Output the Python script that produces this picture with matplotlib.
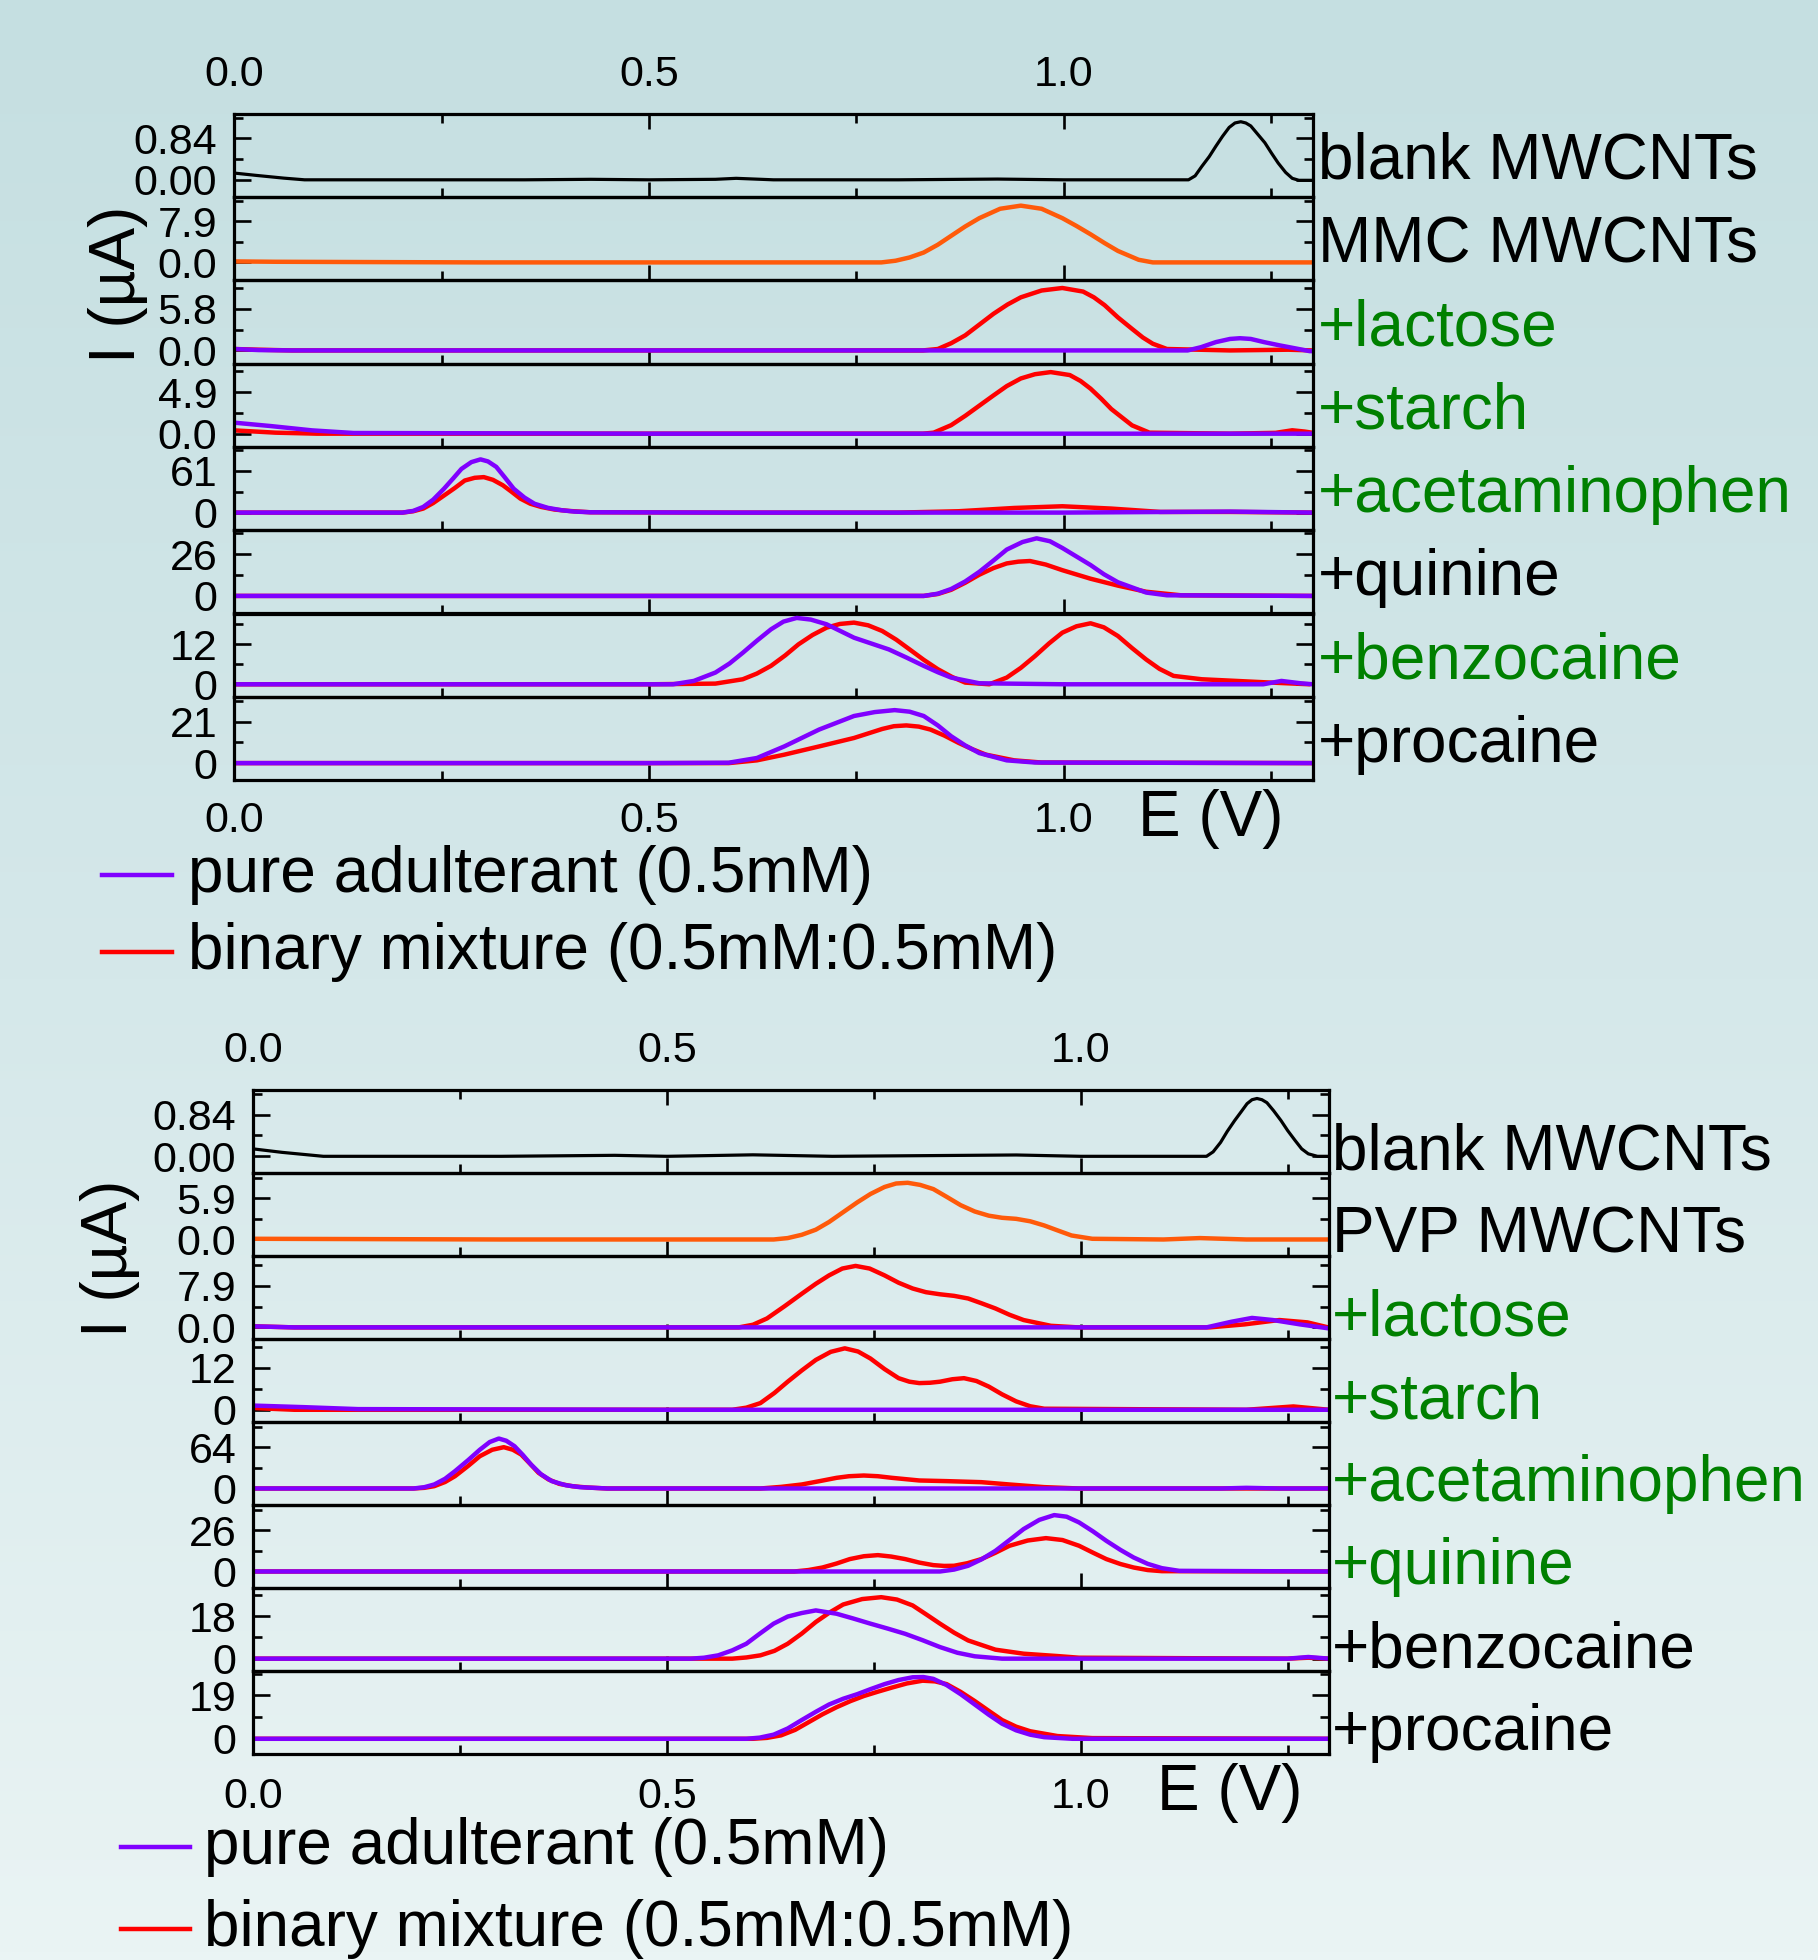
import numpy as np
import matplotlib
matplotlib.use("Agg")
import matplotlib.pyplot as plt
from matplotlib.lines import Line2D
from matplotlib.transforms import offset_copy
from matplotlib.colors import LinearSegmentedColormap

plt.rcParams['font.family'] = ['Liberation Sans', 'DejaVu Sans']

# ---------------- data: top figure (MMC MWCNTs) ----------------
top_blank_E = [0, 0.027, 0.06, 0.085, 0.2, 0.35, 0.43, 0.5, 0.58, 0.605, 0.65, 0.8, 0.92, 1.0, 1.15, 1.158, 1.166, 1.175, 1.183, 1.191, 1.199, 1.206, 1.213, 1.219, 1.225, 1.233, 1.242, 1.25, 1.258, 1.267, 1.275, 1.283, 1.3]
top_blank_I = [0.137, 0.089, 0.034, 0, 0, 0, 0.01, 0, 0.01, 0.03, 0, 0, 0.015, 0, 0, 0.08, 0.27, 0.47, 0.68, 0.88, 1.06, 1.15, 1.175, 1.15, 1.09, 0.93, 0.75, 0.54, 0.34, 0.15, 0.03, -0.01, -0.01]

top_mod_E = [0, 0.05, 0.17, 0.3, 0.5, 0.7, 0.78, 0.797, 0.814, 0.831, 0.848, 0.864, 0.881, 0.898, 0.923, 0.948, 0.973, 0.998, 1.015, 1.032, 1.049, 1.065, 1.09, 1.107, 1.2, 1.3]
top_mod_I = [0.19, 0.12, 0.06, 0, 0, 0, 0, 0.32, 0.95, 1.9, 3.4, 5.1, 6.9, 8.5, 10.3, 10.9, 10.3, 8.5, 7.0, 5.4, 3.7, 2.2, 0.5, 0, 0, 0]

top_lac_mix_E = [0, 0.03, 0.07, 0.5, 0.83, 0.848, 0.864, 0.881, 0.898, 0.915, 0.932, 0.948, 0.973, 0.998, 1.023, 1.036, 1.049, 1.065, 1.082, 1.095, 1.107, 1.124, 1.2, 1.27, 1.3]
top_lac_mix_I = [0.2, 0.1, 0, 0, 0, 0.2, 1.0, 2.1, 3.6, 5.1, 6.4, 7.4, 8.35, 8.7, 8.2, 7.4, 6.3, 4.6, 3.0, 1.8, 0.93, 0.2, 0, 0.1, 0]
top_lac_pure_E = [0, 0.03, 0.07, 0.5, 1.0, 1.149, 1.165, 1.183, 1.2, 1.212, 1.225, 1.241, 1.26, 1.275, 1.296, 1.3]
top_lac_pure_I = [0.2, 0.05, 0, 0, 0, 0, 0.45, 1.16, 1.6, 1.7, 1.6, 1.16, 0.7, 0.37, -0.1, -0.1]

top_sta_mix_E = [0, 0.05, 0.1, 0.5, 0.83, 0.843, 0.864, 0.881, 0.898, 0.915, 0.931, 0.948, 0.965, 0.984, 1.007, 1.02, 1.032, 1.045, 1.057, 1.07, 1.082, 1.103, 1.2, 1.255, 1.275, 1.29, 1.3]
top_sta_mix_I = [0.39, 0.12, 0, 0, 0, 0.12, 1.0, 2.1, 3.3, 4.5, 5.6, 6.5, 7.0, 7.25, 6.9, 6.2, 5.3, 4.1, 2.9, 1.9, 0.98, 0.12, 0, 0.1, 0.4, 0.25, 0.1]
top_sta_pure_E = [0, 0.044, 0.094, 0.144, 0.5, 1.0, 1.3]
top_sta_pure_I = [1.3, 0.9, 0.39, 0.08, 0, 0, 0]

top_ace_mix_E = [0, 0.1, 0.203, 0.216, 0.228, 0.24, 0.253, 0.266, 0.278, 0.29, 0.301, 0.312, 0.324, 0.335, 0.345, 0.357, 0.370, 0.386, 0.404, 0.429, 0.6, 0.8, 0.873, 0.94, 0.998, 1.057, 1.116, 1.2, 1.3]
top_ace_mix_I = [0, 0, 0, 2, 5.9, 14, 25, 36, 47, 51, 52, 48, 40, 30, 20.5, 13, 8.3, 4.5, 2.4, 0.5, 0, 0, 2, 6.8, 9.3, 5.9, 1, 1, 0]
top_ace_pure_E = [0, 0.1, 0.203, 0.216, 0.228, 0.24, 0.253, 0.264, 0.274, 0.286, 0.297, 0.306, 0.316, 0.326, 0.337, 0.35, 0.362, 0.378, 0.395, 0.41, 0.429, 0.6, 1.0, 1.2, 1.3]
top_ace_pure_I = [0, 0, 0, 2.5, 8.3, 19, 35, 50, 64, 74, 78, 75, 67, 52, 35, 22, 13, 7, 3.4, 1.5, 0.5, 0, 0, 1.5, 0]

top_qui_mix_E = [0, 0.5, 0.831, 0.848, 0.864, 0.881, 0.898, 0.915, 0.931, 0.945, 0.959, 0.978, 0.998, 1.032, 1.065, 1.099, 1.141, 1.3]
top_qui_mix_I = [0, 0, 0, 1.2, 3.8, 8.2, 13.2, 17.3, 20.2, 21.3, 21.7, 19.5, 16, 10.7, 6.4, 2.6, 0.4, 0]
top_qui_pure_E = [0, 0.5, 0.831, 0.848, 0.864, 0.881, 0.898, 0.915, 0.931, 0.95, 0.967, 0.983, 0.998, 1.015, 1.032, 1.048, 1.065, 1.099, 1.124, 1.3]
top_qui_pure_I = [0, 0, 0, 1.4, 4.3, 9.0, 15, 22, 28.8, 33.5, 35.8, 34, 29.8, 24.5, 19.2, 13.5, 8.5, 2.1, 0.4, 0]

top_ben_mix_E = [0, 0.5, 0.58, 0.613, 0.63, 0.647, 0.664, 0.68, 0.697, 0.714, 0.73, 0.747, 0.764, 0.781, 0.798, 0.814, 0.831, 0.848, 0.865, 0.881, 0.91, 0.931, 0.948, 0.965, 0.982, 0.998, 1.015, 1.032, 1.048, 1.065, 1.082, 1.099, 1.115, 1.132, 1.166, 1.208, 1.25, 1.296]
top_ben_mix_I = [0, 0, 0.2, 1.5, 3.2, 5.5, 8.6, 11.9, 14.7, 16.9, 18, 18.4, 17.6, 15.9, 13.3, 10.4, 7.3, 4.5, 2.2, 0.5, 0, 2, 4.9, 8.4, 12.2, 15.4, 17.3, 18.2, 17, 14.4, 10.8, 7.4, 4.6, 2.5, 1.5, 1, 0.5, 0]
top_ben_pure_E = [0, 0.5, 0.529, 0.554, 0.58, 0.597, 0.613, 0.63, 0.647, 0.662, 0.678, 0.695, 0.714, 0.747, 0.789, 0.81, 0.831, 0.848, 0.864, 0.898, 1.0, 1.24, 1.262, 1.285, 1.3]
top_ben_pure_I = [0, 0, 0, 1, 3.5, 6.2, 9.4, 13, 16.4, 18.7, 19.8, 19.3, 17.9, 13.9, 10.4, 8.0, 5.5, 3.6, 2, 0.3, 0, 0, 1, 0.3, 0]

top_pro_mix_E = [0, 0.5, 0.596, 0.63, 0.663, 0.705, 0.747, 0.781, 0.795, 0.81, 0.825, 0.839, 0.856, 0.873, 0.89, 0.906, 0.94, 0.973, 1.3]
top_pro_mix_I = [0, 0, 0, 1.4, 4.3, 8.5, 12.8, 17.4, 18.8, 19.2, 18.6, 17.1, 14, 10.3, 7.0, 4.3, 1.4, 0.3, 0]
top_pro_pure_E = [0, 0.5, 0.596, 0.63, 0.663, 0.705, 0.747, 0.772, 0.796, 0.814, 0.831, 0.848, 0.864, 0.881, 0.898, 0.931, 0.965, 1.3]
top_pro_pure_I = [0, 0, 0.2, 2.6, 8.5, 17.1, 24, 26, 27, 26.2, 24, 19.2, 13.7, 9.0, 5.1, 1.4, 0.3, 0]

# ---------------- data: bottom figure (PVP MWCNTs) ----------------
bot_blank_E = [0, 0.035, 0.085, 0.3, 0.437, 0.5, 0.604, 0.7, 0.922, 1.0, 1.152, 1.16, 1.169, 1.177, 1.186, 1.194, 1.201, 1.207, 1.213, 1.219, 1.225, 1.233, 1.242, 1.25, 1.259, 1.267, 1.275, 1.286, 1.3]
bot_blank_I = [0.15, 0.08, 0, 0, 0.02, 0, 0.03, 0, 0.027, 0, 0, 0.09, 0.28, 0.5, 0.72, 0.9, 1.06, 1.14, 1.165, 1.14, 1.08, 0.92, 0.72, 0.52, 0.32, 0.15, 0.05, 0, 0]

bot_mod_E = [0, 0.3, 0.629, 0.646, 0.663, 0.68, 0.696, 0.713, 0.73, 0.746, 0.763, 0.777, 0.791, 0.806, 0.822, 0.838, 0.855, 0.872, 0.889, 0.905, 0.922, 0.939, 0.956, 0.972, 0.989, 1.014, 1.1, 1.144, 1.2, 1.3]
bot_mod_I = [0.1, 0, 0, 0.2, 0.67, 1.4, 2.5, 3.9, 5.3, 6.5, 7.5, 8.0, 8.1, 7.8, 7.2, 6.1, 4.9, 4.0, 3.4, 3.1, 2.95, 2.6, 2.0, 1.3, 0.57, 0.1, 0, 0.2, 0, 0]

bot_lac_mix_E = [0, 0.05, 0.587, 0.604, 0.621, 0.642, 0.663, 0.68, 0.696, 0.712, 0.728, 0.745, 0.763, 0.78, 0.797, 0.813, 0.830, 0.847, 0.864, 0.88, 0.897, 0.914, 0.931, 0.964, 0.997, 1.156, 1.198, 1.24, 1.274, 1.299]
bot_lac_mix_I = [0.2, 0, 0, 0.5, 1.7, 4.0, 6.4, 8.3, 9.9, 11.2, 11.7, 11.2, 9.9, 8.5, 7.4, 6.7, 6.3, 6.0, 5.5, 4.6, 3.6, 2.4, 1.4, 0.3, 0, 0, 0.57, 1.4, 0.95, 0]
bot_lac_pure_E = [0, 0.05, 1.152, 1.182, 1.207, 1.232, 1.265, 1.3]
bot_lac_pure_I = [0.2, 0, 0, 1.07, 1.8, 1.4, 0.57, -0.2]

bot_sta_mix_E = [0, 0.05, 0.579, 0.596, 0.613, 0.63, 0.646, 0.663, 0.68, 0.698, 0.715, 0.731, 0.746, 0.763, 0.78, 0.793, 0.805, 0.818, 0.83, 0.845, 0.859, 0.874, 0.889, 0.905, 0.922, 0.939, 0.956, 1.2, 1.257, 1.3]
bot_sta_mix_I = [0.5, 0, 0, 0.6, 1.9, 4.8, 8.0, 11.2, 14.2, 16.5, 17.5, 16.6, 14.6, 11.6, 9.0, 8.0, 7.6, 7.7, 8.0, 8.7, 9.0, 8.2, 6.6, 4.4, 2.4, 1.0, 0.3, 0, 0.95, 0]
bot_sta_pure_E = [0, 0.06, 0.127, 0.5, 1.3]
bot_sta_pure_I = [1.2, 0.76, 0.19, 0, 0]

bot_ace_mix_E = [0, 0.194, 0.207, 0.219, 0.232, 0.244, 0.26, 0.274, 0.289, 0.303, 0.314, 0.324, 0.335, 0.345, 0.357, 0.37, 0.386, 0.404, 0.428, 0.613, 0.638, 0.663, 0.685, 0.705, 0.72, 0.738, 0.755, 0.772, 0.805, 0.838, 0.88, 0.914, 0.956, 0.998, 1.3]
bot_ace_mix_I = [0, 0, 1, 3.6, 10, 19, 35, 50, 60, 64, 60, 52.6, 38, 24.3, 14, 7.2, 3.5, 1.5, 0, 0, 2.5, 6.2, 11.5, 16.5, 19, 20.1, 19, 16.5, 12.4, 11.4, 9.8, 6.2, 2.1, 0, 0]
bot_ace_pure_E = [0, 0.194, 0.207, 0.219, 0.232, 0.244, 0.26, 0.274, 0.286, 0.297, 0.306, 0.316, 0.326, 0.336, 0.348, 0.361, 0.378, 0.395, 0.428, 1.0, 1.17, 1.2, 1.24, 1.3]
bot_ace_pure_I = [0, 0, 2, 6.2, 15, 26.8, 44, 60, 72, 77.4, 74, 65.5, 52, 37, 22, 11.4, 5, 2, 0, 0, 0, 1, 0, 0]

bot_qui_mix_E = [0, 0.5, 0.654, 0.671, 0.688, 0.705, 0.721, 0.738, 0.755, 0.771, 0.788, 0.805, 0.822, 0.835, 0.847, 0.863, 0.88, 0.897, 0.914, 0.936, 0.958, 0.978, 0.998, 1.015, 1.031, 1.048, 1.064, 1.081, 1.098, 1.3]
bot_qui_mix_I = [0, 0, 0, 0.9, 2.5, 5.0, 7.8, 9.6, 10.3, 9.4, 7.8, 5.6, 4.0, 3.5, 3.6, 5.2, 7.8, 11.8, 16.2, 19.5, 21, 19.8, 16.2, 11.8, 7.8, 4.7, 2.5, 0.9, 0.2, 0]
bot_qui_pure_E = [0, 0.5, 0.83, 0.847, 0.864, 0.88, 0.897, 0.914, 0.931, 0.95, 0.968, 0.983, 0.998, 1.015, 1.031, 1.048, 1.064, 1.081, 1.098, 1.119, 1.3]
bot_qui_pure_I = [0, 0, 0, 1.2, 3.6, 7.6, 13, 19.8, 26.7, 32.5, 35.5, 34.5, 30.9, 25.2, 19.3, 13.6, 8.8, 4.8, 2.1, 0.4, 0]

bot_ben_mix_E = [0, 0.5, 0.579, 0.596, 0.613, 0.63, 0.646, 0.663, 0.68, 0.697, 0.713, 0.736, 0.759, 0.778, 0.797, 0.813, 0.83, 0.847, 0.864, 0.897, 0.931, 0.972, 0.998, 1.25, 1.275, 1.3]
bot_ben_mix_I = [0, 0, 0, 0.5, 1.4, 3.3, 6.3, 10.6, 15.5, 19.6, 22.9, 25.2, 26, 25, 22.5, 18.8, 14.8, 11.0, 7.7, 3.8, 2.1, 1.1, 0.4, 0, 0.4, 0]
bot_ben_pure_E = [0, 0.5, 0.529, 0.545, 0.562, 0.579, 0.596, 0.612, 0.629, 0.646, 0.663, 0.68, 0.705, 0.725, 0.746, 0.767, 0.788, 0.809, 0.83, 0.851, 0.872, 0.905, 1.25, 1.275, 1.3]
bot_ben_pure_I = [0, 0, 0, 0.4, 1.4, 3.5, 6.3, 10.5, 14.8, 17.8, 19.3, 20.4, 19, 17, 14.8, 12.7, 10.5, 7.8, 4.9, 2.5, 1.0, 0, 0, 0.7, 0]

bot_pro_mix_E = [0, 0.5, 0.604, 0.621, 0.638, 0.655, 0.671, 0.688, 0.705, 0.722, 0.738, 0.755, 0.772, 0.79, 0.809, 0.824, 0.838, 0.855, 0.872, 0.889, 0.905, 0.922, 0.939, 0.972, 1.014, 1.3]
bot_pro_mix_I = [0, 0, 0, 0.4, 1.5, 3.9, 7.2, 10.7, 13.8, 16.5, 18.7, 20.6, 22.4, 24.2, 25.4, 25.1, 23.9, 20.5, 16.5, 12.2, 8.2, 5.3, 3.3, 1.2, 0.3, 0]
bot_pro_pure_E = [0, 0.5, 0.596, 0.612, 0.629, 0.646, 0.663, 0.68, 0.696, 0.713, 0.73, 0.746, 0.763, 0.78, 0.797, 0.81, 0.822, 0.838, 0.855, 0.872, 0.889, 0.905, 0.922, 0.939, 0.956, 0.99, 1.3]
bot_pro_pure_I = [0, 0, 0, 0.5, 1.8, 4.5, 8.2, 11.8, 15, 17.5, 19.5, 21.7, 23.9, 25.7, 26.9, 27.0, 26.2, 23.5, 19.5, 15.0, 10.5, 6.6, 3.7, 1.8, 0.7, 0, 0]

# panel labels, tick values and tick label strings
top_labels = ["blank MWCNTs", "MMC MWCNTs", "+lactose", "+starch", "+acetaminophen", "+quinine", "+benzocaine", "+procaine"]
top_label_green = [False, False, True, True, True, False, True, False]
top_tick_val = [0.84, 7.9, 5.8, 4.9, 61, 26, 12, 21]
top_tick_txt = ["0.84", "7.9", "5.8", "4.9", "61", "26", "12", "21"]
top_zero_txt = ["0.00", "0.0", "0.0", "0.0", "0", "0", "0", "0"]

bot_labels = ["blank MWCNTs", "PVP MWCNTs", "+lactose", "+starch", "+acetaminophen", "+quinine", "+benzocaine", "+procaine"]
bot_label_green = [False, False, True, True, True, True, False, False]
bot_tick_val = [0.84, 5.9, 7.9, 12, 64, 26, 18, 19]
bot_tick_txt = ["0.84", "5.9", "7.9", "12", "64", "26", "18", "19"]
bot_zero_txt = ["0.00", "0.0", "0.0", "0", "0", "0", "0", "0"]

x_ticks = [0.0, 0.5, 1.0]
x_tick_txt = ["0.0", "0.5", "1.0"]
x_minor = [0.25, 0.75, 1.25]
legend_txt = ["pure adulterant (0.5mM)", "binary mixture (0.5mM:0.5mM)"]

# ---------------- layout / style ----------------
W, H = 1818, 1960
DPI = 100
C_PURE = "#8000FF"
C_MIX = "#FF0000"
C_MOD = "#FF5A0A"
C_GREEN = "#008000"
FS_BIG = 46
FS_TICK = 31
LW_C = 3.2
LW_K = 2.3

# y-limits of each sub-panel as fractions of its labelled tick value
top_ylim_frac = [(-0.42, 1.585), (-0.44, 1.584), (-0.32, 1.68), (-0.32, 1.68),
                 (-0.424, 1.576), (-0.42, 1.57), (-0.31, 1.76), (-0.41, 1.61)]
bot_ylim_frac = [(-0.40, 1.59), (-0.40, 1.61), (-0.28, 1.72), (-0.29, 1.68),
                 (-0.40, 1.61), (-0.40, 1.61), (-0.29, 1.66), (-0.35, 1.56)]

top_curves = [
    [(top_blank_E, top_blank_I, "k", LW_K)],
    [(top_mod_E, top_mod_I, C_MOD, LW_C)],
    [(top_lac_mix_E, top_lac_mix_I, C_MIX, LW_C), (top_lac_pure_E, top_lac_pure_I, C_PURE, LW_C)],
    [(top_sta_mix_E, top_sta_mix_I, C_MIX, LW_C), (top_sta_pure_E, top_sta_pure_I, C_PURE, LW_C)],
    [(top_ace_mix_E, top_ace_mix_I, C_MIX, LW_C), (top_ace_pure_E, top_ace_pure_I, C_PURE, LW_C)],
    [(top_qui_mix_E, top_qui_mix_I, C_MIX, LW_C), (top_qui_pure_E, top_qui_pure_I, C_PURE, LW_C)],
    [(top_ben_mix_E, top_ben_mix_I, C_MIX, LW_C), (top_ben_pure_E, top_ben_pure_I, C_PURE, LW_C)],
    [(top_pro_mix_E, top_pro_mix_I, C_MIX, LW_C), (top_pro_pure_E, top_pro_pure_I, C_PURE, LW_C)],
]
bot_curves = [
    [(bot_blank_E, bot_blank_I, "k", LW_K)],
    [(bot_mod_E, bot_mod_I, C_MOD, LW_C)],
    [(bot_lac_mix_E, bot_lac_mix_I, C_MIX, LW_C), (bot_lac_pure_E, bot_lac_pure_I, C_PURE, LW_C)],
    [(bot_sta_mix_E, bot_sta_mix_I, C_MIX, LW_C), (bot_sta_pure_E, bot_sta_pure_I, C_PURE, LW_C)],
    [(bot_ace_mix_E, bot_ace_mix_I, C_MIX, LW_C), (bot_ace_pure_E, bot_ace_pure_I, C_PURE, LW_C)],
    [(bot_qui_mix_E, bot_qui_mix_I, C_MIX, LW_C), (bot_qui_pure_E, bot_qui_pure_I, C_PURE, LW_C)],
    [(bot_ben_mix_E, bot_ben_mix_I, C_MIX, LW_C), (bot_ben_pure_E, bot_ben_pure_I, C_PURE, LW_C)],
    [(bot_pro_mix_E, bot_pro_mix_I, C_MIX, LW_C), (bot_pro_pure_E, bot_pro_pure_I, C_PURE, LW_C)],
]

fig = plt.figure(figsize=(W / DPI, H / DPI), dpi=DPI)

# background gradient
bg = fig.add_axes([0, 0, 1, 1], zorder=-10)
cmap = LinearSegmentedColormap.from_list("bg", ["#C5DFE1", "#D5E8EA", "#EAF4F4"])
bg.imshow(np.linspace(0, 1, 256).reshape(-1, 1), aspect="auto", cmap=cmap,
          extent=[0, 1, 0, 1], origin="upper")
bg.set_axis_off()


def px(x, y):
    return x / W, 1 - y / H


def draw_block(left, right, top, bottom, labels, greens, tvals, ttxt, ztxt,
               ylims, curves, label_base, label_dx, xlab_top_pad, xlab_bot_pad):
    n = len(labels)
    h = (bottom - top) / n
    axes = []
    for i in range(n):
        y0 = top + (i + 1) * h
        ax = fig.add_axes([left / W, 1 - y0 / H, (right - left) / W, h / H])
        ax.set_facecolor("none")
        for E, I, c, lw in curves[i]:
            ax.plot(E, I, color=c, lw=lw, solid_joinstyle="round", solid_capstyle="round")
        M = tvals[i]
        lo, hi = ylims[i]
        ax.set_xlim(0, 1.3)
        ax.set_ylim(lo * M, hi * M)
        ax.set_yticks([0, M])
        ax.set_yticklabels([ztxt[i], ttxt[i]])
        ax.set_yticks([M / 2, 1.5 * M], minor=True)
        ax.set_xticks(x_ticks)
        ax.set_xticks(x_minor, minor=True)
        ax.set_xticklabels(x_tick_txt)
        for s in ax.spines.values():
            s.set_linewidth(2.3)
        ax.tick_params(axis="y", which="both", direction="in", left=True, right=True,
                       labelsize=FS_TICK, pad=12, width=1.9)
        ax.tick_params(axis="y", which="major", length=12)
        ax.tick_params(axis="y", which="minor", length=6.5)
        ax.tick_params(axis="x", which="both", direction="in", bottom=True,
                       top=(i == 0), labelbottom=(i == n - 1), labeltop=(i == 0),
                       labelsize=FS_TICK, width=1.9)
        ax.tick_params(axis="x", which="major", length=11)
        ax.tick_params(axis="x", which="minor", length=6.5)
        if i == 0:
            ax.tick_params(axis="x", which="major", pad=xlab_top_pad)
        if i == n - 1:
            ax.tick_params(axis="x", which="major", pad=xlab_bot_pad)
        tr = offset_copy(ax.transAxes, fig=fig, x=label_dx, y=0, units="dots")
        ax.text(1.0, label_base, labels[i], transform=tr, ha="left", va="baseline",
                fontsize=FS_BIG, color=(C_GREEN if greens[i] else "black"))
        axes.append(ax)
    return axes


top_axes = draw_block(234, 1313, 114, 780, top_labels, top_label_green, top_tick_val,
                      top_tick_txt, top_zero_txt, top_ylim_frac, top_curves,
                      0.22, 5, 14, 15)
bot_axes = draw_block(253, 1329, 1090, 1754, bot_labels, bot_label_green, bot_tick_val,
                      bot_tick_txt, bot_zero_txt, bot_ylim_frac, bot_curves,
                      0.045, 3, 14, 16.5)

# axis titles
fig.text(*px(118, 284), "I (µA)", rotation=90, ha="center", va="center", fontsize=FS_BIG)
fig.text(*px(110, 1258), "I (µA)", rotation=90, ha="center", va="center", fontsize=FS_BIG)
fig.text(*px(1211, 819), "E (V)", ha="center", va="center", fontsize=FS_BIG)
fig.text(*px(1230, 1793), "E (V)", ha="center", va="center", fontsize=FS_BIG)

# legends
def legend_block(x_line0, x_line1, x_text, ys):
    for y, txt, c in zip(ys, legend_txt, [C_PURE, C_MIX]):
        xa, ya = px(x_line0, y)
        xb, _ = px(x_line1, y)
        fig.add_artist(Line2D([xa, xb], [ya, ya], color=c, lw=LW_C,
                              transform=fig.transFigure))
        fig.text(*px(x_text, y), txt, ha="left", va="center", fontsize=FS_BIG)


legend_block(102, 172, 188, [875, 952])
legend_block(121, 190, 204, [1847, 1929])

fig.savefig("out.png", dpi=DPI)
